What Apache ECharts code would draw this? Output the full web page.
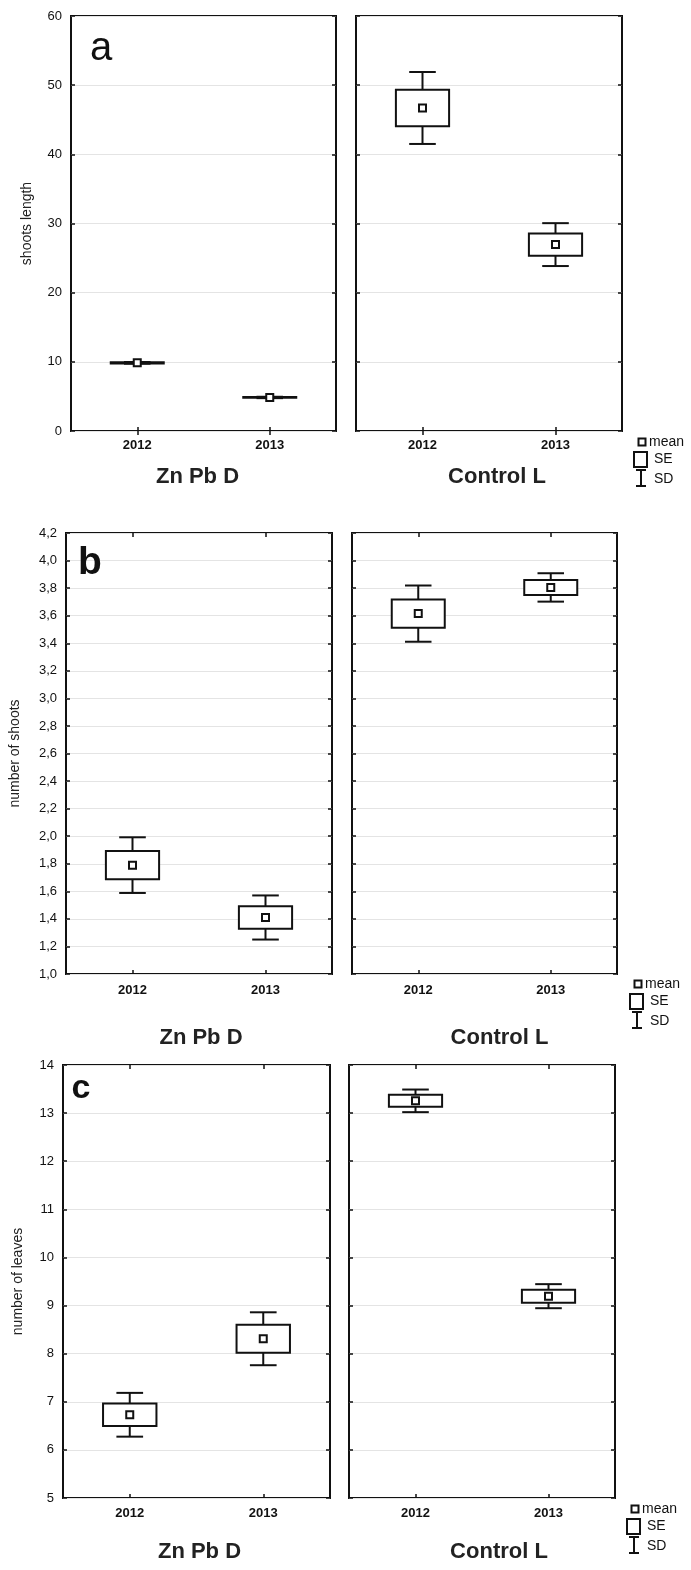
<!DOCTYPE html>
<html><head><meta charset="utf-8">
<style>html,body{margin:0;padding:0;background:#fff}#chart{width:691px;height:1570px}</style>
<script src="https://cdn.jsdelivr.net/npm/echarts@6/dist/echarts.min.js"></script>
</head><body><div id="chart"></div>
<script>
// ---------------- data ----------------
const years = ['2012', '2013'];
const groupNames = ['Zn Pb D', 'Control L'];
const panelLetters = ['a', 'b', 'c'];
const yAxisNames = ['shoots length', 'number of shoots', 'number of leaves'];
const yMin = [0, 1.0, 5];
const yMax = [60, 4.2, 14];
const yStep = [10, 0.2, 1];
const legendLabels = ['mean', 'SE', 'SD'];

// panel a: shoots length (mean, SE, SD per year)
const lengthZnMean = [9.85, 4.85];
const lengthZnSE = [0.08, 0.06];
const lengthZnSD = [0.12, 0.10];
const lengthCtrlMean = [46.7, 26.95];
const lengthCtrlSE = [2.65, 1.6];
const lengthCtrlSD = [5.2, 3.1];
// panel b: number of shoots
const shootsZnMean = [1.79, 1.41];
const shootsZnSE = [0.103, 0.081];
const shootsZnSD = [0.202, 0.16];
const shootsCtrlMean = [3.615, 3.805];
const shootsCtrlSE = [0.102, 0.054];
const shootsCtrlSD = [0.204, 0.103];
// panel c: number of leaves
const leavesZnMean = [6.73, 8.31];
const leavesZnSE = [0.232, 0.29];
const leavesZnSD = [0.455, 0.55];
const leavesCtrlMean = [13.255, 9.195];
const leavesCtrlSE = [0.125, 0.135];
const leavesCtrlSD = [0.235, 0.25];

// ---------------- layout ----------------
const FONT = '"Liberation Sans", Arial, sans-serif';
const INK = '#111';
const plots = [
  {panel:0, group:0, mean:lengthZnMean, se:lengthZnSE, sd:lengthZnSD, grid:{left:71, top:16, width:265, height:415}, labMargin:8, nameGap:35, nameShift:-6},
  {panel:0, group:1, mean:lengthCtrlMean, se:lengthCtrlSE, sd:lengthCtrlSD, grid:{left:356, top:16, width:266, height:415}, labMargin:8, nameGap:35, nameShift:8},
  {panel:1, group:0, mean:shootsZnMean, se:shootsZnSE, sd:shootsZnSD, grid:{left:66, top:533, width:266, height:441}, labMargin:10, nameGap:53, nameShift:2},
  {panel:1, group:1, mean:shootsCtrlMean, se:shootsCtrlSE, sd:shootsCtrlSD, grid:{left:352, top:533, width:265, height:441}, labMargin:10, nameGap:53, nameShift:15},
  {panel:2, group:0, mean:leavesZnMean, se:leavesZnSE, sd:leavesZnSD, grid:{left:63, top:1065, width:267, height:433}, labMargin:9, nameGap:43, nameShift:3},
  {panel:2, group:1, mean:leavesCtrlMean, se:leavesCtrlSE, sd:leavesCtrlSD, grid:{left:349, top:1065, width:266, height:433}, labMargin:9, nameGap:43, nameShift:17}
];
const yNameGap = [37, 44, 38];
const letterPos = [
  {x:101, y:49, size:40, weight:'normal'},
  {x:90, y:563, size:39, weight:'bold'},
  {x:81, y:1089, size:34, weight:'bold'}
];
const legendPos = [[642, 442], [638, 984], [635, 1509]];

function fmt(panel) {
  return function (v) {
    if (panel === 1) return v.toFixed(1).replace('.', ',');
    return String(Math.round(v));
  };
}

function renderBox(params, api) {
  const xi = api.value(0), m = api.value(1), se = api.value(2), sd = api.value(3);
  const band = api.size([1, 0])[0];
  const c = api.coord([xi, m]);
  const cx = c[0], yM = c[1];
  const ySeHi = api.coord([xi, m + se])[1], ySeLo = api.coord([xi, m - se])[1];
  const ySdHi = api.coord([xi, m + sd])[1], ySdLo = api.coord([xi, m - sd])[1];
  const bw = band * 0.4, cw = band * 0.2, ms = 7;
  const st = {stroke: INK, lineWidth: 2, fill: null};
  return {type: 'group', children: [
    {type: 'line', shape: {x1: cx, y1: ySeHi, x2: cx, y2: ySdHi}, style: st},
    {type: 'line', shape: {x1: cx, y1: ySeLo, x2: cx, y2: ySdLo}, style: st},
    {type: 'line', shape: {x1: cx - cw / 2, y1: ySdHi, x2: cx + cw / 2, y2: ySdHi}, style: st},
    {type: 'line', shape: {x1: cx - cw / 2, y1: ySdLo, x2: cx + cw / 2, y2: ySdLo}, style: st},
    {type: 'rect', shape: {x: cx - bw / 2, y: ySeHi, width: bw, height: Math.max(ySeLo - ySeHi, 0.5)}, style: {stroke: INK, lineWidth: 2, fill: '#fff'}},
    {type: 'rect', shape: {x: cx - ms / 2, y: yM - ms / 2, width: ms, height: ms}, style: {stroke: INK, lineWidth: 2, fill: '#fff'}}
  ]};
}

const grid = [], xAxis = [], yAxis = [], series = [];
plots.forEach(function (p, i) {
  grid.push(Object.assign({show: true, borderColor: INK, borderWidth: 2, backgroundColor: 'transparent', containLabel: false}, p.grid));
  const tick = {show: true, inside: true, length: 4, lineStyle: {color: INK, width: 1.5}};
  const pad = p.nameShift >= 0 ? [0, 0, 0, p.nameShift * 2] : [0, -p.nameShift * 2, 0, 0];
  xAxis.push({
    gridIndex: i, type: 'category', data: years, position: 'bottom', boundaryGap: true,
    axisLine: {show: false}, axisTick: Object.assign({alignWithLabel: true}, tick),
    axisLabel: {fontFamily: FONT, fontWeight: 'bold', fontSize: 13, color: INK, margin: p.labMargin},
    splitLine: {show: false},
    name: groupNames[p.group], nameLocation: 'middle', nameGap: p.nameGap,
    nameTextStyle: {fontFamily: FONT, fontWeight: 'bold', fontSize: 22, color: '#222', padding: pad}
  });
  xAxis.push({
    gridIndex: i, type: 'category', data: years, position: 'top', boundaryGap: true,
    axisLine: {show: false}, axisTick: Object.assign({alignWithLabel: true}, tick),
    axisLabel: {show: false}, splitLine: {show: false}
  });
  const left = p.group === 0;
  yAxis.push({
    gridIndex: i, type: 'value', min: yMin[p.panel], max: yMax[p.panel], interval: yStep[p.panel], position: 'left',
    axisLine: {show: false}, axisTick: tick,
    axisLabel: {show: left, fontFamily: FONT, fontSize: 13, color: INK, margin: 9, formatter: fmt(p.panel)},
    splitLine: {show: true, lineStyle: {color: '#e4e4e4', width: 1}},
    name: left ? yAxisNames[p.panel] : '', nameLocation: 'middle', nameGap: yNameGap[p.panel],
    nameTextStyle: {fontFamily: FONT, fontSize: 14, color: '#222'}
  });
  yAxis.push({
    gridIndex: i, type: 'value', min: yMin[p.panel], max: yMax[p.panel], interval: yStep[p.panel], position: 'right',
    axisLine: {show: false}, axisTick: tick, axisLabel: {show: false}, splitLine: {show: false}
  });
  series.push({
    type: 'custom', name: groupNames[p.group] + ' ' + panelLetters[p.panel],
    xAxisIndex: 2 * i, yAxisIndex: 2 * i,
    renderItem: renderBox,
    encode: {x: 0, y: 1},
    data: years.map(function (y, k) { return [k, p.mean[k], p.se[k], p.sd[k]]; }),
    z: 5, silent: true
  });
});

const graphic = [];
letterPos.forEach(function (lp, k) {
  graphic.push({type: 'text', left: null, x: lp.x, y: lp.y, z: 10,
    style: {text: panelLetters[k], x: 0, y: 0, align: 'center', verticalAlign: 'middle',
      font: lp.weight + ' ' + lp.size + 'px ' + FONT, fill: '#111'}});
});
legendPos.forEach(function (pos) {
  const mx = pos[0], my = pos[1];
  const st = {stroke: INK, lineWidth: 2, fill: '#fff'};
  const tf = '14px ' + FONT;
  graphic.push(
    {type: 'rect', shape: {x: mx - 3.5, y: my - 3.5, width: 7, height: 7}, style: st, z: 10},
    {type: 'text', x: mx + 7, y: my, style: {text: legendLabels[0], font: tf, fill: '#111', verticalAlign: 'middle'}, z: 10},
    {type: 'rect', shape: {x: mx - 8, y: my + 10, width: 13, height: 15}, style: st, z: 10},
    {type: 'text', x: mx + 12, y: my + 17, style: {text: legendLabels[1], font: tf, fill: '#111', verticalAlign: 'middle'}, z: 10},
    {type: 'line', shape: {x1: mx - 1, y1: my + 28, x2: mx - 1, y2: my + 44}, style: {stroke: INK, lineWidth: 2}, z: 10},
    {type: 'line', shape: {x1: mx - 6, y1: my + 28, x2: mx + 4, y2: my + 28}, style: {stroke: INK, lineWidth: 2}, z: 10},
    {type: 'line', shape: {x1: mx - 6, y1: my + 44, x2: mx + 4, y2: my + 44}, style: {stroke: INK, lineWidth: 2}, z: 10},
    {type: 'text', x: mx + 12, y: my + 37, style: {text: legendLabels[2], font: tf, fill: '#111', verticalAlign: 'middle'}, z: 10}
  );
});

const chart = echarts.init(document.getElementById('chart'), null, {renderer: 'canvas'});
chart.setOption({
  animation: false,
  backgroundColor: '#fff',
  textStyle: {fontFamily: FONT},
  grid: grid, xAxis: xAxis, yAxis: yAxis, series: series, graphic: graphic
});
</script></body></html>
